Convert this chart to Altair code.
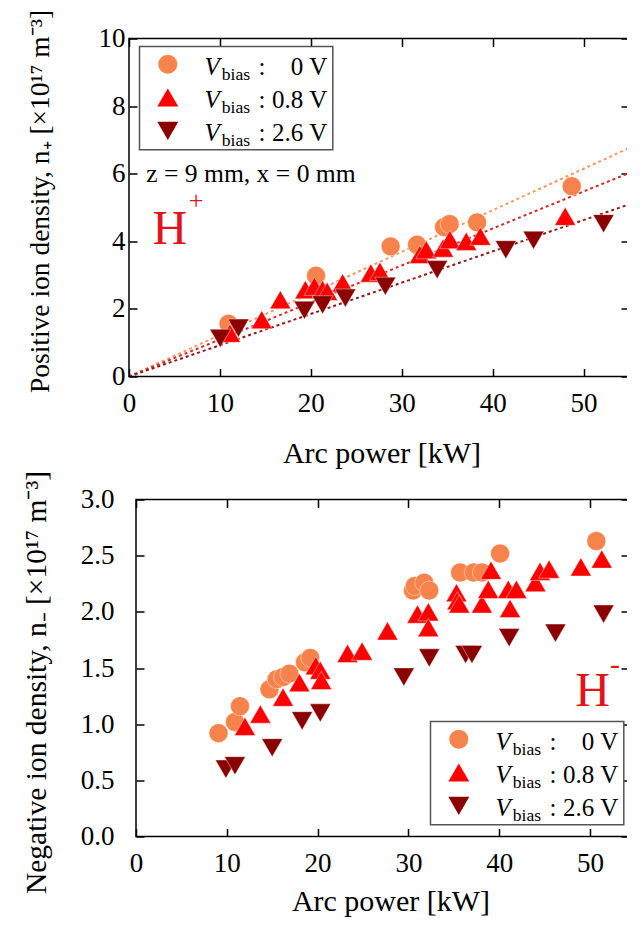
import altair as alt
import pandas as pd

FONT = "Liberation Serif"

SERIES = ["0 V", "0.8 V", "2.6 V"]
COLORS = ["#F5834B", "#FF0000", "#8B0000"]
SHAPES = ["circle", "triangle-up", "triangle-down"]
SIZES = [360, 440, 440]
FIT_COLORS = ["#F39A66", "#D42A2A", "#8E1B1B"]

# ---------------- Top panel: positive ion density ----------------
top_x0 = [10.95, 20.57, 28.78, 31.68, 34.66, 35.27, 38.29, 48.7]
top_y0 = [1.56, 2.98, 3.85, 3.90, 4.42, 4.51, 4.56, 5.63]
top_x1 = [11.1, 14.6, 16.65, 19.4, 20.4, 21.3, 21.8, 23.5, 26.6, 27.6, 32.0, 32.7,
          34.55, 35.3, 37.1, 38.65, 47.98]
top_y1 = [1.28, 1.68, 2.27, 2.57, 2.67, 2.57, 2.52, 2.77, 3.06, 3.11, 3.61, 3.75,
          3.80, 4.05, 4.00, 4.15, 4.74]
top_x2 = [10.04, 12.04, 19.3, 21.3, 23.8, 28.2, 33.9, 41.45, 44.5, 52.2]
top_y2 = [1.13, 1.43, 1.96, 2.12, 2.32, 2.67, 3.16, 3.75, 4.03, 4.52]

fit_x = [0, 55]
fit_y0 = [0, 6.76]
fit_y1 = [0, 6.02]
fit_y2 = [0, 5.09]

# ---------------- Bottom panel: negative ion density ----------------
bot_x0 = [9.09, 10.9, 11.45, 14.7, 15.5, 16.2, 16.9, 18.6, 19.2, 30.5, 30.7, 31.75,
          32.3, 35.7, 37.2, 38.1, 40.1, 50.7]
bot_y0 = [0.92, 1.02, 1.16, 1.31, 1.40, 1.42, 1.45, 1.55, 1.59, 2.19, 2.23, 2.26,
          2.19, 2.35, 2.35, 2.35, 2.52, 2.63]
bot_x1 = [12.0, 13.7, 16.2, 18.0, 19.8, 20.3, 20.4, 23.3, 24.9, 27.7, 31.0, 32.2,
          32.2, 35.3, 35.4, 35.6, 38.1, 38.8, 39.1, 41.2, 41.0, 41.9, 44.0, 44.5,
          45.5, 49.0, 51.3]
bot_y1 = [0.98, 1.09, 1.24, 1.37, 1.52, 1.48, 1.39, 1.63, 1.65, 1.83, 1.98, 2.00,
          1.86, 2.17, 2.10, 2.07, 2.07, 2.20, 2.37, 2.03, 2.20, 2.20, 2.26, 2.36,
          2.38, 2.40, 2.47]
bot_x2 = [9.9, 10.9, 15.0, 18.3, 20.3, 29.5, 32.3, 36.3, 37.0, 41.1, 46.2, 51.5]
bot_y2 = [0.60, 0.63, 0.79, 1.03, 1.10, 1.42, 1.59, 1.62, 1.62, 1.77, 1.81, 1.98]

x_ticks = [0, 10, 20, 30, 40, 50]
top_y_ticks = [0, 2, 4, 6, 8, 10]
bot_y_ticks = [0.0, 0.5, 1.0, 1.5, 2.0, 2.5, 3.0]

TOP_YTITLE = "Positive ion density, n\u208A [\u00D710\u00B9\u2077 m\u207B\u00B3]"
BOT_YTITLE = "Negative ion density, n\u208B [\u00D710\u00B9\u2077 m\u207B\u00B3]"
XTITLE = "Arc power [kW]"

ONE = alt.Data(values=[{"a": 1}])


def txt(s, x, y, size, color="black", align="left", style="normal"):
    return alt.Chart(ONE).mark_text(
        text=s, align=align, baseline="alphabetic", fontSize=size, font=FONT,
        fontStyle=style, color=color
    ).encode(x=alt.value(x), y=alt.value(y))


def legend_layers(bx, by):
    L = [alt.Chart(ONE).mark_rect(fill="white", stroke="#555555", strokeWidth=1.5).encode(
        x=alt.value(bx), x2=alt.value(bx + 193.3), y=alt.value(by), y2=alt.value(by + 103.3))]
    for i in range(3):
        cy = by + 17.7 + 33.3 * i
        base = by + 28.3 + 33.3 * i
        L.append(alt.Chart(ONE).mark_point(shape=SHAPES[i], filled=True, size=SIZES[i],
                                           color=COLORS[i], opacity=1).encode(
            x=alt.value(bx + 28.3), y=alt.value(cy)))
        L.append(txt("V", bx + 65, base, 25, style="italic"))
        L.append(txt("bias", bx + 82.3, base + 5, 17.6))
        L.append(txt(":", bx + 119, base, 25))
        L.append(txt(SERIES[i], bx + 187.7, base, 25, align="right"))
    return L


def panel(xs, ys, W, H, x0, xdom, ydom, yticks, yfmt, ytitle, ytitle_size, ylabpad,
          ytitlepad, ytitle_y, xtitle_x, xtitlepad, fits, legend_pos, annots):
    xsc = alt.Scale(domain=xdom, range=[x0, W], nice=False, zero=False)
    ysc = alt.Scale(domain=ydom, nice=False, zero=False)
    tick_kw = dict(labels=False, domain=False, grid=False, ticks=True, tickSize=8,
                   tickWidth=1.5, tickColor="black", title=None)
    layers = []
    for fy, fc in fits:
        df = pd.DataFrame({"x": fit_x, "y": fy})
        layers.append(alt.Chart(df).mark_line(strokeDash=[3, 3], strokeWidth=2, color=fc).encode(
            x=alt.X("x:Q", scale=xsc, axis=None), y=alt.Y("y:Q", scale=ysc, axis=None)))
    axes = [
        (alt.Axis(orient="bottom", values=x_ticks, ticks=False, domain=False, grid=False,
                  labelFontSize=27, labelPadding=14, labelFlush=False, labelOverlap=False,
                  title=XTITLE, titleFontSize=30, titlePadding=xtitlepad, titleX=xtitle_x),
         alt.Axis(orient="left", values=yticks, format=yfmt, ticks=False, domain=False,
                  grid=False, labelFontSize=27, labelPadding=ylabpad + x0, labelFlush=False,
                  labelOverlap=False, title=ytitle, titleFontSize=ytitle_size,
                  titlePadding=ytitlepad, titleY=ytitle_y)),
        (alt.Axis(orient="top", offset=-H, values=x_ticks, **tick_kw),
         alt.Axis(orient="right", offset=-(W - x0), values=yticks, **tick_kw)),
        (alt.Axis(orient="bottom", offset=-H, values=x_ticks, **tick_kw),
         alt.Axis(orient="left", offset=-W, values=yticks, **tick_kw)),
    ]
    for i in range(3):
        df = pd.DataFrame({"x": xs[i], "y": ys[i]})
        ax, ay = axes[i]
        layers.append(alt.Chart(df).mark_point(
            shape=SHAPES[i], filled=True, size=SIZES[i], color=COLORS[i], opacity=1,
            stroke="white", strokeWidth=0.6, strokeOpacity=0.7
        ).encode(x=alt.X("x:Q", scale=xsc, axis=ax), y=alt.Y("y:Q", scale=ysc, axis=ay)))
    layers += annots
    layers += legend_layers(*legend_pos)
    # plot frame
    layers.append(alt.Chart(ONE).mark_rect(fillOpacity=0, stroke="black", strokeWidth=1.5).encode(
        x=alt.value(x0), x2=alt.value(W), y=alt.value(0), y2=alt.value(H)))
    return alt.layer(*layers).resolve_axis(x="independent", y="independent").properties(
        width=W, height=H, view=alt.ViewBackground(stroke="transparent"))


RED = "#E3121B"

top = panel(
    [top_x0, top_x1, top_x2], [top_y0, top_y1, top_y2], 500, 338, 0, [0, 55], [0, 10],
    top_y_ticks, "d", TOP_YTITLE, 27.5, 4, 43.5, 162.5, 252.5, 22,
    [(fit_y0, FIT_COLORS[0]), (fit_y1, FIT_COLORS[1]), (fit_y2, FIT_COLORS[2])],
    (10.5, 8),
    [txt("z = 9 mm, x = 0 mm", 17.2, 143, 25.6),
     txt("H", 23.5, 205.3, 48, color=RED),
     txt("+", 67, 170, 26, color=RED, align="center")],
)

# bottom panel frame starts 7 px to the right of the top one
bottom = panel(
    [bot_x0, bot_x1, bot_x2], [bot_y0, bot_y1, bot_y2], 500, 337, 7, [0, 54.3], [0, 3],
    bot_y_ticks, ".1f", BOT_YTITLE, 29.5, 8, 29, 182.5, 261.5, 10.4,
    [],
    (301.5, 222),
    [txt("H", 446.2, 206.3, 48, color=RED),
     txt("-", 486, 174, 30, color=RED, align="center")],
)

chart = alt.concat(top, bottom, columns=1, align="none", bounds="full", spacing=0).properties(
    padding={"left": 12, "top": 0.5, "right": -7, "bottom": -2}
).configure(font=FONT).configure_view(
    stroke="black", strokeWidth=1.5
).configure_axis(
    labelColor="black", titleColor="black", labelFont=FONT, titleFont=FONT,
    titleFontWeight="normal"
)

chart.save("out.html", embed_options={"renderer": "svg", "actions": False})
